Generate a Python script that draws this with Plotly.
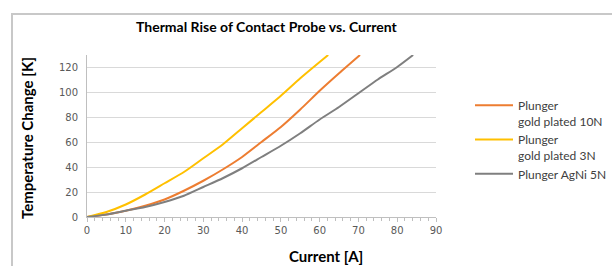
import plotly.graph_objects as go

x_3n = [0, 5, 10, 15, 20, 25, 30, 35, 40, 45, 50, 55, 60, 62.2]
y_3n = [0, 4, 10, 18, 27, 36, 47, 58, 71, 84, 97, 111, 124, 129.6]

x_10n = [0, 5, 10, 15, 20, 25, 30, 35, 40, 45, 50, 55, 60, 65, 70.4]
y_10n = [0, 2, 5, 9, 14, 21, 29, 38, 48, 60, 72, 86, 101, 115, 129.6]

x_5n = [0, 5, 10, 15, 20, 25, 30, 35, 40, 45, 50, 55, 60, 65, 70, 75, 80, 84.1]
y_5n = [0, 2, 5, 8, 12, 17, 24, 31, 39, 48, 57, 67, 78, 88, 99, 110, 120, 129.6]

names = ["Plunger<br>gold plated 10N", "Plunger<br>gold plated 3N", "Plunger AgNi 5N"]
colors = ["#ED7D31", "#FFC000", "#7F7F7F"]

title = "Thermal Rise of Contact Probe vs. Current"
x_title = "Current [A]"
y_title = "Temperature Change [K]"

W, H = 612, 266
L, T = 87, 55
R = W - 436
B = H - 217
pw, ph = W - L - R, H - T - B

def px(x):
    return (x - L) / pw

def py(y):
    return (H - B - y) / ph

fig = go.Figure()
for xs, ys, n, c in [(x_10n, y_10n, names[0], colors[0]),
                     (x_3n, y_3n, names[1], colors[1]),
                     (x_5n, y_5n, names[2], colors[2])]:
    fig.add_trace(go.Scatter(x=xs, y=ys, name=n, mode="lines",
                             line=dict(color=c, width=2, shape="spline", smoothing=0.6)))

fig.update_layout(
    width=W, height=H,
    margin=dict(l=L, r=R, t=T, b=B, autoexpand=False),
    paper_bgcolor="white", plot_bgcolor="white",
    font=dict(family="Lato", color="#404040"),
    showlegend=True,
    legend=dict(x=px(470), y=py(91), xanchor="left", yanchor="top",
                font=dict(family="Lato", size=12, color="#404040"),
                valign="top", tracegroupgap=0, itemwidth=38,
                bgcolor="rgba(0,0,0,0)"),
    xaxis=dict(range=[0, 90], dtick=10, tick0=0, showgrid=False,
               showline=True, linecolor="#BFBFBF", linewidth=1,
               ticks="outside", ticklen=4, tickcolor="#BFBFBF",
               minor=dict(dtick=2, ticks="outside", ticklen=3, tickcolor="#BFBFBF"),
               tickfont=dict(family="DejaVu Sans", size=10, color="#595959"),
               zeroline=False, automargin=False),
    yaxis=dict(range=[0, 129.6], dtick=20, tick0=0, showgrid=True,
               gridcolor="#D9D9D9", gridwidth=1,
               showline=True, linecolor="#BFBFBF", linewidth=1,
               ticks="", ticklabelstandoff=6,
               tickfont=dict(family="DejaVu Sans", size=10, color="#595959"),
               zeroline=False, automargin=False),
    shapes=[dict(type="rect", xref="paper", yref="paper",
                 x0=px(12), x1=px(640), y0=py(290), y1=py(14),
                 line=dict(color="#C8C8C8", width=2), layer="below")],
    annotations=[
        dict(text="<b>" + title + "</b>", xref="paper", yref="paper",
             x=px(266), y=py(27), xanchor="center", yanchor="middle",
             showarrow=False, font=dict(family="Lato", size=14, color="#000000")),
        dict(text="<b>" + x_title + "</b>", xref="paper", yref="paper",
             x=px(326), y=py(256), xanchor="center", yanchor="middle",
             showarrow=False, font=dict(family="Lato", size=15, color="#000000")),
        dict(text="<b>" + y_title + "</b>", xref="paper", yref="paper",
             x=px(27), y=py(138), xanchor="center", yanchor="middle", textangle=-90,
             showarrow=False, font=dict(family="Lato", size=15, color="#000000")),
    ],
)

fig.write_html("out.html",
               config={"displayModeBar": False},
               post_script="document.body.style.margin='0';document.body.style.overflow='hidden';")
